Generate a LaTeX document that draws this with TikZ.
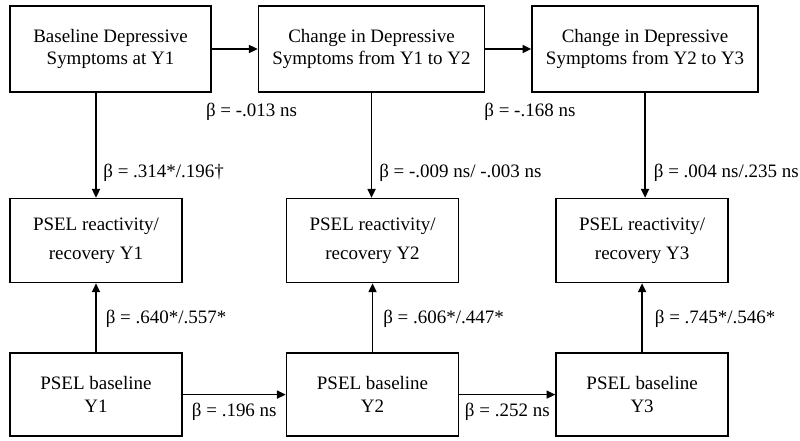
\documentclass[tikz,border=0pt]{standalone}
\usepackage{fontspec}
\setmainfont{Liberation Serif}
\usetikzlibrary{arrows.meta,positioning}

\begin{document}
\begin{tikzpicture}[
    node distance=1.15cm and 1.15cm,
    font=\fontsize{13.5}{16.3}\selectfont,
    topbox/.style={rectangle, draw, line width=1.1pt, align=center, minimum width=5.65cm, minimum height=2.15cm},
    psel/.style={rectangle, draw, line width=1.1pt, align=center, minimum width=4.3cm, minimum height=2.1cm},
    beta/.style={inner sep=0pt},
    arrow/.style={->, >={Triangle[length=0.22cm, width=0.2cm]}, line width=1.1pt}
]
\useasboundingbox (-2.7625,1.225) rectangle (17.2375,-9.8);

% Depressive symptoms (top row)
\node[topbox, minimum width=5.025cm] (dep1) at (0,0) {Baseline Depressive\\Symptoms at Y1};
\node[topbox, right=1.15cm of dep1] (dep12) {Change in Depressive\\Symptoms from Y1 to Y2};
\node[topbox, right=1.15cm of dep12] (dep23) {Change in Depressive\\Symptoms from Y2 to Y3};

% PSEL reactivity/recovery (middle row)
\node[psel, below right=2.625cm and 0cm of dep1.south west] (rr1) {PSEL reactivity/\\[0.15cm]recovery Y1};
\node[psel, right=2.575cm of rr1] (rr2) {PSEL reactivity/\\[0.15cm]recovery Y2};
\node[psel, right=2.4cm of rr2] (rr3) {PSEL reactivity/\\[0.15cm]recovery Y3};

% PSEL baseline (bottom row)
\node[psel, minimum height=2.075cm, below=1.725cm of rr1] (base1) {PSEL baseline\\Y1};
\node[psel, minimum height=2.075cm, below=1.725cm of rr2] (base2) {PSEL baseline\\Y2};
\node[psel, minimum height=2.075cm, below=1.725cm of rr3] (base3) {PSEL baseline\\Y3};

% Paths between depressive symptoms
\draw[arrow] (dep1) -- (dep12);
\draw[arrow] (dep12) -- (dep23);
\node[beta, below right=0.25cm and -0.15cm of dep1.south east] (b12) {β = -.013 ns};
\node[beta, below right=0.25cm and -0.03cm of dep12.south east] (b23) {β = -.168 ns};

% Depressive symptoms to reactivity/recovery
\draw[arrow] (dep1.south -| rr1.north) -- node[beta, pos=0.76, right=0.165cm] {β = .314*/.196†} (rr1.north);
\draw[arrow] (dep12.south) -- node[beta, pos=0.76, right=0.175cm] {β = -.009 ns/ -.003 ns} (dep12.south |- rr2.north);
\draw[arrow] (dep23.south) -- node[beta, pos=0.76, right=0.2cm] {β = .004 ns/.235 ns} (dep23.south |- rr3.north);

% Baseline to reactivity/recovery
\draw[arrow] (base1) -- node[beta, pos=0.48, right=0.225cm] {β = .640*/.557*} (rr1);
\draw[arrow] (base2) -- node[beta, pos=0.48, right=0.25cm] {β = .606*/.447*} (rr2);
\draw[arrow] (base3) -- node[beta, pos=0.48, right=0.3cm] {β = .745*/.546*} (rr3);

% Baseline stability
\draw[arrow] (base1) -- node[beta, below=0.2cm] {β = .196 ns} (base2);
\draw[arrow] (base2) -- node[beta, below=0.2cm] {β = .252 ns} (base3);

\end{tikzpicture}
\end{document}
